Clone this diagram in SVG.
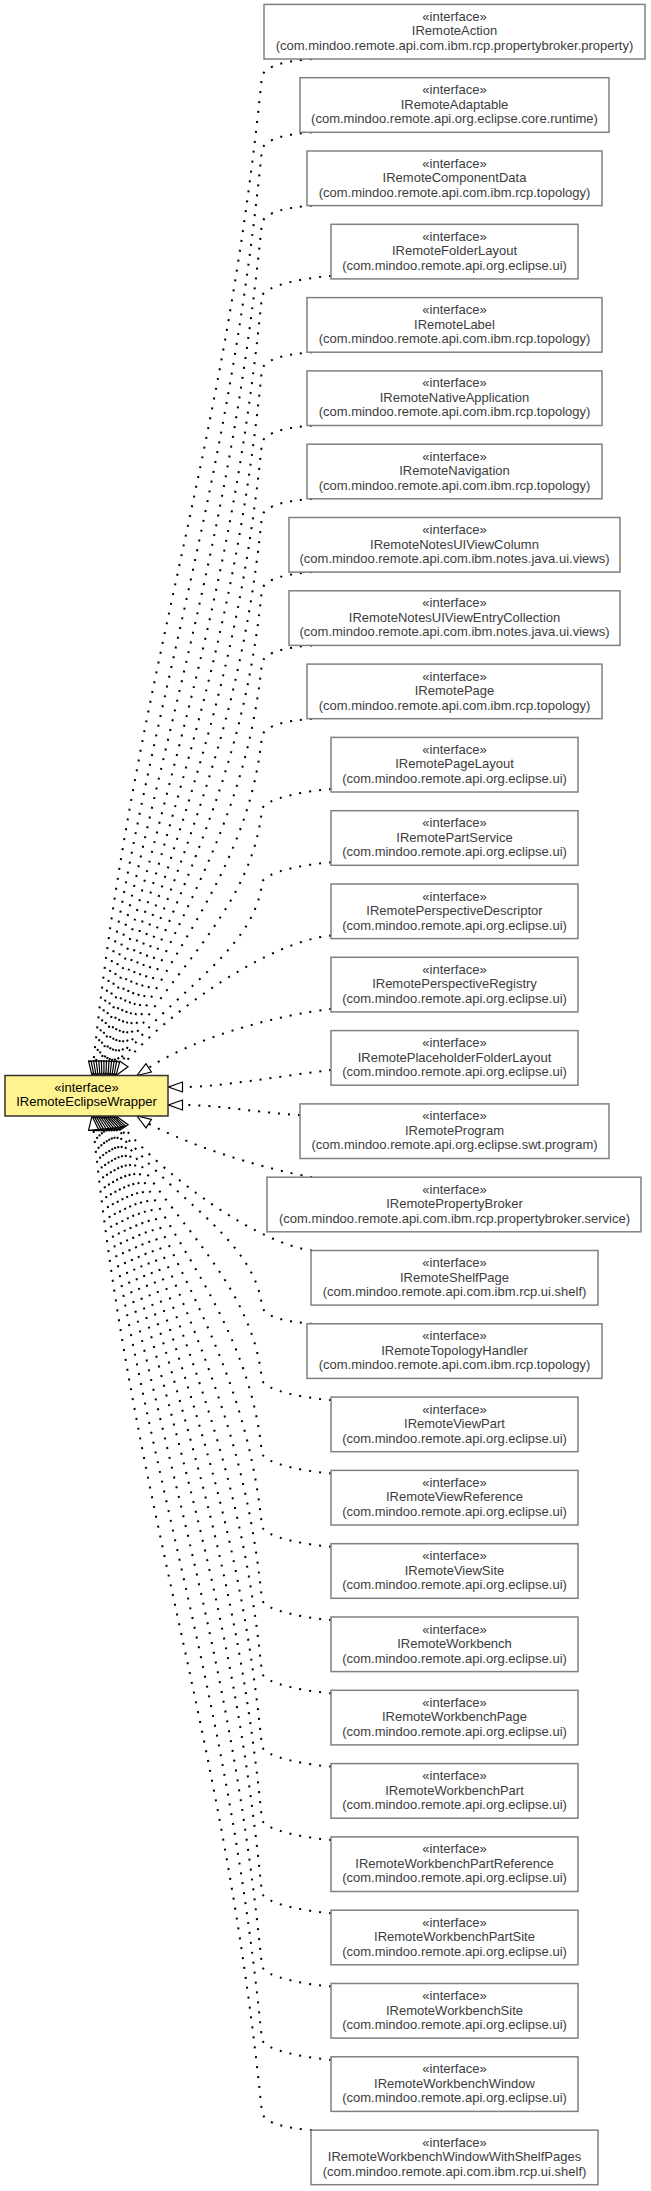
<svg xmlns="http://www.w3.org/2000/svg" width="651" height="2191" viewBox="0 0 651 2191">
<style>
.edge{fill:none;stroke:#000;stroke-width:2;stroke-dasharray:2 8;marker-end:url(#tri)}
.node rect{fill:#fff;stroke:#808080;stroke-width:1.5}
.node text{font-family:"Liberation Sans",Arial,sans-serif;font-size:13px;fill:#3c3c3c;text-anchor:middle}
#n-IRemoteEclipseWrapper rect{fill:#fff38f;stroke:#333;stroke-width:1.5}
#n-IRemoteEclipseWrapper text{fill:#000}
</style>
<defs>
<marker id="tri" markerUnits="userSpaceOnUse" markerWidth="16" markerHeight="12" refX="14" refY="5" orient="auto" viewBox="-1 -1 16 12"><path d="M0,0 L14,5 L0,10 Z" fill="#fff" stroke="#000" stroke-width="1.2"/></marker>
</defs>
<rect width="651" height="2191" fill="#fff"/>
<g id="connectors">
<path class="edge" d="M312,59 C287,61 266,65 262,76 C222.6,470.2 134.7,669.6 93.5,1061.6 L92,1075.5"/>
<path class="edge" d="M312,132.3 C287,134.3 266,138.3 262,149.3 C225.5,514.2 148,700.4 96,1061.6 L94,1075.5"/>
<path class="edge" d="M312,205.6 C287,207.6 266,211.6 262,222.6 C228.4,558.2 159.1,731.6 98.5,1061.7 L96,1075.5"/>
<path class="edge" d="M331,275.9 C306,277.9 266,284.9 262,295.9 C231.4,602.3 167.9,762.8 101.1,1061.8 L98,1075.5"/>
<path class="edge" d="M312,352.2 C287,354.2 266,358.2 262,369.2 C234.3,646.3 174.4,794.1 103.6,1062 L100,1075.5"/>
<path class="edge" d="M312,425.5 C287,427.5 266,431.5 262,442.5 C237.2,690.3 178.6,825.1 106.1,1062.1 L102,1075.5"/>
<path class="edge" d="M312,498.8 C287,500.8 266,504.8 262,515.8 C240.1,734.4 180.5,855.9 108.6,1062.3 L104,1075.5"/>
<path class="edge" d="M312,572.1 C287,574.1 266,578.1 262,589.1 C243.1,778.5 180.2,886.1 111.1,1062.5 L106,1075.5"/>
<path class="edge" d="M312,645.4 C287,647.4 266,651.4 262,662.4 C246,822.5 177.7,916 113.6,1062.7 L108,1075.5"/>
<path class="edge" d="M312,718.7 C287,720.7 266,724.7 262,735.7 C248.9,866.6 173.1,945 116.1,1062.9 L110,1075.5"/>
<path class="edge" d="M331,789 C306,791 266,798 262,809 C251.8,910.6 166.3,973.4 118.6,1063.1 L112,1075.5"/>
<path class="edge" d="M331,862.3 C306,864.3 266,871.3 262,882.3 C254.8,954.7 157.4,1000.8 121,1063.4 L114,1075.5"/>
<path class="edge" d="M331,935.6 C270,941 170,1010 125,1062.5 L116,1075.5"/>
<path class="edge" d="M331,1008.9 C280,1015 200,1035 150,1067 L137,1075.5"/>
<path class="edge" d="M331,1070 C280,1076 220,1087 183,1087 L168.5,1087"/>
<path class="edge" d="M300,1115 C260,1113 220,1105 183,1105 L168.5,1105"/>
<path class="edge" d="M312,1177.2 C270,1170 200,1150 150,1124.5 L137,1116"/>
<path class="edge" d="M312,1250.5 C260,1244 170,1181 125,1129 L116,1116"/>
<path class="edge" d="M312,1323.8 C287,1321.8 266,1317.8 262,1306.8 C254.9,1235.3 157,1189.9 121,1128.1 L114,1116"/>
<path class="edge" d="M331,1400.1 C306,1398.1 266,1391.1 262,1380.1 C251.9,1279.4 165.9,1217.3 118.6,1128.4 L112,1116"/>
<path class="edge" d="M331,1473.4 C306,1471.4 266,1464.4 262,1453.4 C249,1323.5 172.6,1245.5 116.1,1128.6 L110,1116"/>
<path class="edge" d="M331,1546.7 C306,1544.7 266,1537.7 262,1526.7 C246.1,1367.5 177.3,1274.7 113.6,1128.8 L108,1116"/>
<path class="edge" d="M331,1620 C306,1618 266,1611 262,1600 C243.2,1411.6 179.8,1304.4 111.1,1129 L106,1116"/>
<path class="edge" d="M331,1693.3 C306,1691.3 266,1684.3 262,1673.3 C240.2,1455.7 180.2,1334.7 108.6,1129.2 L104,1116"/>
<path class="edge" d="M331,1766.6 C306,1764.6 266,1757.6 262,1746.6 C237.3,1499.7 178.3,1365.5 106.1,1129.4 L102,1116"/>
<path class="edge" d="M331,1839.9 C306,1837.9 266,1830.9 262,1819.9 C234.4,1543.7 174.1,1396.5 103.6,1129.5 L100,1116"/>
<path class="edge" d="M331,1913.2 C306,1911.2 266,1904.2 262,1893.2 C231.5,1587.8 167.7,1427.7 101.1,1129.7 L98,1116"/>
<path class="edge" d="M331,1986.5 C306,1984.5 266,1977.5 262,1966.5 C228.5,1631.8 158.9,1459 98.5,1129.8 L96,1116"/>
<path class="edge" d="M331,2059.8 C306,2057.8 266,2050.8 262,2039.8 C225.6,1675.8 147.9,1490.2 96,1129.9 L94,1116"/>
<path class="edge" d="M312,2130.1 C287,2128.1 266,2124.1 262,2113.1 C222.7,1719.8 134.6,1521 93.5,1129.9 L92,1116"/>
</g>
<g id="n-IRemoteEclipseWrapper" class="node"><rect x="5" y="1075.5" width="163" height="40.5"/><text x="86.5" y="1091.5">«interface»</text><text x="86.5" y="1106">IRemoteEclipseWrapper</text></g>
<g id="n-IRemoteAction" class="node"><rect x="264" y="4.4" width="381" height="54.6"/><text x="454.5" y="20.9">«interface»</text><text x="454.5" y="35.4">IRemoteAction</text><text x="454.5" y="49.9">(com.mindoo.remote.api.com.ibm.rcp.propertybroker.property)</text></g>
<g id="n-IRemoteAdaptable" class="node"><rect x="300" y="77.7" width="309" height="54.6"/><text x="454.5" y="94.2">«interface»</text><text x="454.5" y="108.7">IRemoteAdaptable</text><text x="454.5" y="123.2">(com.mindoo.remote.api.org.eclipse.core.runtime)</text></g>
<g id="n-IRemoteComponentData" class="node"><rect x="307" y="151" width="295" height="54.6"/><text x="454.5" y="167.5">«interface»</text><text x="454.5" y="182">IRemoteComponentData</text><text x="454.5" y="196.5">(com.mindoo.remote.api.com.ibm.rcp.topology)</text></g>
<g id="n-IRemoteFolderLayout" class="node"><rect x="331" y="224.3" width="247" height="54.6"/><text x="454.5" y="240.8">«interface»</text><text x="454.5" y="255.3">IRemoteFolderLayout</text><text x="454.5" y="269.8">(com.mindoo.remote.api.org.eclipse.ui)</text></g>
<g id="n-IRemoteLabel" class="node"><rect x="307" y="297.6" width="295" height="54.6"/><text x="454.5" y="314.1">«interface»</text><text x="454.5" y="328.6">IRemoteLabel</text><text x="454.5" y="343.1">(com.mindoo.remote.api.com.ibm.rcp.topology)</text></g>
<g id="n-IRemoteNativeApplication" class="node"><rect x="307" y="370.9" width="295" height="54.6"/><text x="454.5" y="387.4">«interface»</text><text x="454.5" y="401.9">IRemoteNativeApplication</text><text x="454.5" y="416.4">(com.mindoo.remote.api.com.ibm.rcp.topology)</text></g>
<g id="n-IRemoteNavigation" class="node"><rect x="307" y="444.2" width="295" height="54.6"/><text x="454.5" y="460.7">«interface»</text><text x="454.5" y="475.2">IRemoteNavigation</text><text x="454.5" y="489.7">(com.mindoo.remote.api.com.ibm.rcp.topology)</text></g>
<g id="n-IRemoteNotesUIViewColumn" class="node"><rect x="289" y="517.5" width="331" height="54.6"/><text x="454.5" y="534">«interface»</text><text x="454.5" y="548.5">IRemoteNotesUIViewColumn</text><text x="454.5" y="563">(com.mindoo.remote.api.com.ibm.notes.java.ui.views)</text></g>
<g id="n-IRemoteNotesUIViewEntryCollection" class="node"><rect x="289" y="590.8" width="331" height="54.6"/><text x="454.5" y="607.3">«interface»</text><text x="454.5" y="621.8">IRemoteNotesUIViewEntryCollection</text><text x="454.5" y="636.3">(com.mindoo.remote.api.com.ibm.notes.java.ui.views)</text></g>
<g id="n-IRemotePage" class="node"><rect x="307" y="664.1" width="295" height="54.6"/><text x="454.5" y="680.6">«interface»</text><text x="454.5" y="695.1">IRemotePage</text><text x="454.5" y="709.6">(com.mindoo.remote.api.com.ibm.rcp.topology)</text></g>
<g id="n-IRemotePageLayout" class="node"><rect x="331" y="737.4" width="247" height="54.6"/><text x="454.5" y="753.9">«interface»</text><text x="454.5" y="768.4">IRemotePageLayout</text><text x="454.5" y="782.9">(com.mindoo.remote.api.org.eclipse.ui)</text></g>
<g id="n-IRemotePartService" class="node"><rect x="331" y="810.7" width="247" height="54.6"/><text x="454.5" y="827.2">«interface»</text><text x="454.5" y="841.7">IRemotePartService</text><text x="454.5" y="856.2">(com.mindoo.remote.api.org.eclipse.ui)</text></g>
<g id="n-IRemotePerspectiveDescriptor" class="node"><rect x="331" y="884" width="247" height="54.6"/><text x="454.5" y="900.5">«interface»</text><text x="454.5" y="915">IRemotePerspectiveDescriptor</text><text x="454.5" y="929.5">(com.mindoo.remote.api.org.eclipse.ui)</text></g>
<g id="n-IRemotePerspectiveRegistry" class="node"><rect x="331" y="957.3" width="247" height="54.6"/><text x="454.5" y="973.8">«interface»</text><text x="454.5" y="988.3">IRemotePerspectiveRegistry</text><text x="454.5" y="1002.8">(com.mindoo.remote.api.org.eclipse.ui)</text></g>
<g id="n-IRemotePlaceholderFolderLayout" class="node"><rect x="331" y="1030.6" width="247" height="54.6"/><text x="454.5" y="1047.1">«interface»</text><text x="454.5" y="1061.6">IRemotePlaceholderFolderLayout</text><text x="454.5" y="1076.1">(com.mindoo.remote.api.org.eclipse.ui)</text></g>
<g id="n-IRemoteProgram" class="node"><rect x="300" y="1103.9" width="309" height="54.6"/><text x="454.5" y="1120.4">«interface»</text><text x="454.5" y="1134.9">IRemoteProgram</text><text x="454.5" y="1149.4">(com.mindoo.remote.api.org.eclipse.swt.program)</text></g>
<g id="n-IRemotePropertyBroker" class="node"><rect x="267" y="1177.2" width="374" height="54.6"/><text x="454.5" y="1193.7">«interface»</text><text x="454.5" y="1208.2">IRemotePropertyBroker</text><text x="454.5" y="1222.7">(com.mindoo.remote.api.com.ibm.rcp.propertybroker.service)</text></g>
<g id="n-IRemoteShelfPage" class="node"><rect x="311" y="1250.5" width="287" height="54.6"/><text x="454.5" y="1267">«interface»</text><text x="454.5" y="1281.5">IRemoteShelfPage</text><text x="454.5" y="1296">(com.mindoo.remote.api.com.ibm.rcp.ui.shelf)</text></g>
<g id="n-IRemoteTopologyHandler" class="node"><rect x="307" y="1323.8" width="295" height="54.6"/><text x="454.5" y="1340.3">«interface»</text><text x="454.5" y="1354.8">IRemoteTopologyHandler</text><text x="454.5" y="1369.3">(com.mindoo.remote.api.com.ibm.rcp.topology)</text></g>
<g id="n-IRemoteViewPart" class="node"><rect x="331" y="1397.1" width="247" height="54.6"/><text x="454.5" y="1413.6">«interface»</text><text x="454.5" y="1428.1">IRemoteViewPart</text><text x="454.5" y="1442.6">(com.mindoo.remote.api.org.eclipse.ui)</text></g>
<g id="n-IRemoteViewReference" class="node"><rect x="331" y="1470.4" width="247" height="54.6"/><text x="454.5" y="1486.9">«interface»</text><text x="454.5" y="1501.4">IRemoteViewReference</text><text x="454.5" y="1515.9">(com.mindoo.remote.api.org.eclipse.ui)</text></g>
<g id="n-IRemoteViewSite" class="node"><rect x="331" y="1543.7" width="247" height="54.6"/><text x="454.5" y="1560.2">«interface»</text><text x="454.5" y="1574.7">IRemoteViewSite</text><text x="454.5" y="1589.2">(com.mindoo.remote.api.org.eclipse.ui)</text></g>
<g id="n-IRemoteWorkbench" class="node"><rect x="331" y="1617" width="247" height="54.6"/><text x="454.5" y="1633.5">«interface»</text><text x="454.5" y="1648">IRemoteWorkbench</text><text x="454.5" y="1662.5">(com.mindoo.remote.api.org.eclipse.ui)</text></g>
<g id="n-IRemoteWorkbenchPage" class="node"><rect x="331" y="1690.3" width="247" height="54.6"/><text x="454.5" y="1706.8">«interface»</text><text x="454.5" y="1721.3">IRemoteWorkbenchPage</text><text x="454.5" y="1735.8">(com.mindoo.remote.api.org.eclipse.ui)</text></g>
<g id="n-IRemoteWorkbenchPart" class="node"><rect x="331" y="1763.6" width="247" height="54.6"/><text x="454.5" y="1780.1">«interface»</text><text x="454.5" y="1794.6">IRemoteWorkbenchPart</text><text x="454.5" y="1809.1">(com.mindoo.remote.api.org.eclipse.ui)</text></g>
<g id="n-IRemoteWorkbenchPartReference" class="node"><rect x="331" y="1836.9" width="247" height="54.6"/><text x="454.5" y="1853.4">«interface»</text><text x="454.5" y="1867.9">IRemoteWorkbenchPartReference</text><text x="454.5" y="1882.4">(com.mindoo.remote.api.org.eclipse.ui)</text></g>
<g id="n-IRemoteWorkbenchPartSite" class="node"><rect x="331" y="1910.2" width="247" height="54.6"/><text x="454.5" y="1926.7">«interface»</text><text x="454.5" y="1941.2">IRemoteWorkbenchPartSite</text><text x="454.5" y="1955.7">(com.mindoo.remote.api.org.eclipse.ui)</text></g>
<g id="n-IRemoteWorkbenchSite" class="node"><rect x="331" y="1983.5" width="247" height="54.6"/><text x="454.5" y="2000">«interface»</text><text x="454.5" y="2014.5">IRemoteWorkbenchSite</text><text x="454.5" y="2029">(com.mindoo.remote.api.org.eclipse.ui)</text></g>
<g id="n-IRemoteWorkbenchWindow" class="node"><rect x="331" y="2056.8" width="247" height="54.6"/><text x="454.5" y="2073.3">«interface»</text><text x="454.5" y="2087.8">IRemoteWorkbenchWindow</text><text x="454.5" y="2102.3">(com.mindoo.remote.api.org.eclipse.ui)</text></g>
<g id="n-IRemoteWorkbenchWindowWithShelfPages" class="node"><rect x="311" y="2130.1" width="287" height="54.6"/><text x="454.5" y="2146.6">«interface»</text><text x="454.5" y="2161.1">IRemoteWorkbenchWindowWithShelfPages</text><text x="454.5" y="2175.6">(com.mindoo.remote.api.com.ibm.rcp.ui.shelf)</text></g>
</svg>
